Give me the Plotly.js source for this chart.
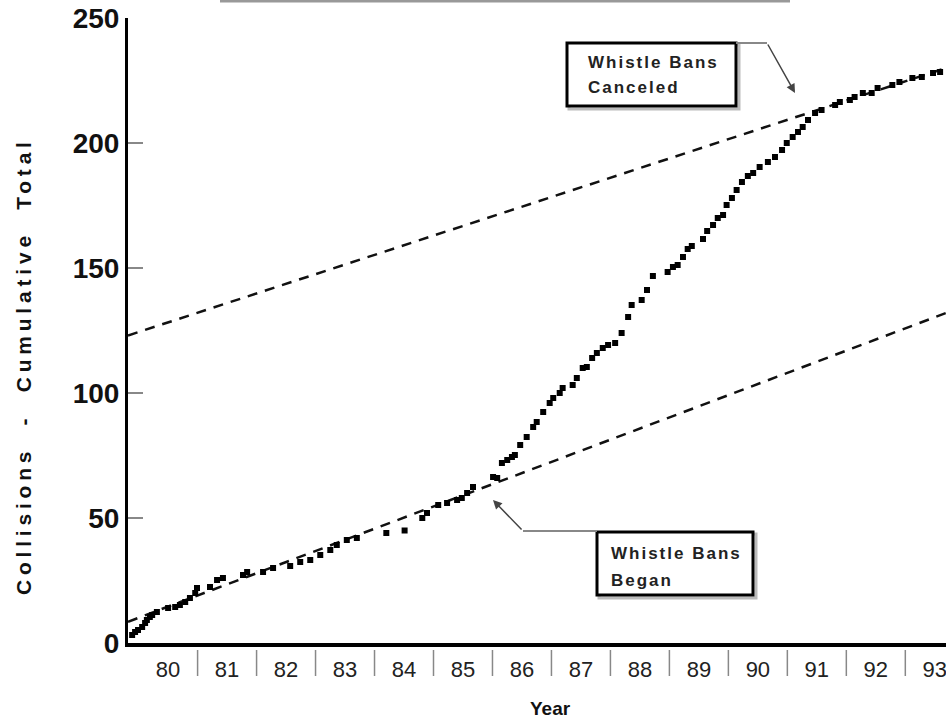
<!DOCTYPE html>
<html>
<head>
<meta charset="utf-8">
<script src="https://cdn.plot.ly/plotly-3.0.1.min.js"></script>
<style>
html,body{margin:0;padding:0;background:#fff;}
#chart{width:946px;height:721px;}
</style>
</head>
<body>
<div id="chart"></div>
<script>
// Cumulative collisions (decimal year, cumulative total)
const years = [1979.89,1979.94,1979.99,1980.06,1980.11,1980.14,1980.19,1980.23,1980.31,1980.50,1980.62,1980.70,1980.79,1980.87,1980.96,1980.99,
1981.21,1981.33,1981.43,1981.77,1981.84,1982.11,1982.28,1982.57,1982.74,1982.91,1983.08,1983.25,1983.36,1983.53,1983.70,
1984.20,1984.51,1984.81,1984.89,1985.08,1985.23,1985.40,1985.48,1985.57,1985.67,1986.01,1986.08,1986.16,1986.25,1986.33,1986.38,
1986.47,1986.58,1986.69,1986.75,1986.86,1986.97,1987.03,1987.14,1987.19,1987.36,1987.43,1987.53,1987.60,1987.69,1987.77,1987.87,
1987.96,1988.08,1988.19,1988.30,1988.36,1988.53,1988.62,1988.72,1988.97,1989.06,1989.14,1989.23,1989.31,1989.38,1989.57,1989.64,
1989.74,1989.82,1989.91,1989.97,1990.06,1990.14,1990.23,1990.33,1990.42,1990.53,1990.67,1990.79,1990.91,1990.99,1991.09,1991.18,
1991.26,1991.35,1991.47,1991.58,1991.81,1991.89,1992.06,1992.14,1992.28,1992.43,1992.53,1992.78,1992.90,1993.12,1993.28,1993.47,1993.59];
const collisions = [3.2,4.4,5.2,6.4,8,9.2,10.4,11.2,12.4,14,14.4,15.2,16.4,18,20,22,
22.4,25.2,26,27.2,28.4,28.4,30,30.8,32.4,33.2,35.2,37.2,39.2,41.2,42,
44,45,50,52,55.2,56,57.2,58,60,62.4,66.4,66,72,73.2,74.4,75.2,
79.2,82.4,86.4,88.4,92.4,96,98,100,102,103.2,106,110,110.4,114,116,118,
119.2,120,124,130.4,135.2,137.2,141.2,146.8,148.4,150.4,151.2,154.4,157.6,158.8,161.6,164.8,
167.2,170,171.2,175.2,178,181.2,184.4,186.8,188,190.4,192.4,194.4,197.2,200,202.4,204.4,
206.4,209.2,212,213.2,215.2,216.4,217.2,218.4,220,220,222,223.2,224.4,226,226.4,228,228.4];

// Trend lines (endpoints)
const trendX = [1979.82, 1993.69];
const trendBefore = [8.5, 132];   // pre-ban trend
const trendAfter = [123, 230];    // post-cancellation trend

const yearLabels = ["80","81","82","83","84","85","86","87","88","89","90","91","92","93"];
const yearStarts = [1980,1981,1982,1983,1984,1985,1986,1987,1988,1989,1990,1991,1992,1993];
const yTicks = [0,50,100,150,200,250];

const FONT = "Liberation Sans, Arial, sans-serif";
const W = 946, H = 721, ML = 128, MR = 0, MT = 18, MB = 78;
const PW = W - ML - MR, PH = H - MT - MB;
const px = x => (x - ML) / PW;       // pixel -> paper x
const py = y => (H - MB - y) / PH;   // pixel -> paper y

const traces = [
  {x: trendX, y: trendBefore, mode: 'lines', line: {color: '#111', width: 2.5, dash: '10px,8px'}, hoverinfo: 'skip'},
  {x: trendX, y: trendAfter, mode: 'lines', line: {color: '#111', width: 2.5, dash: '10px,8px'}, hoverinfo: 'skip'},
  {x: years, y: collisions, mode: 'markers', marker: {symbol: 'square', size: 6, color: '#000'}}
];

const shapes = [];
// separators between year labels
yearStarts.slice(1).forEach(v => {
  shapes.push({type: 'line', xref: 'x', yref: 'paper', x0: v, x1: v, y0: py(650), y1: py(676),
    line: {color: '#888', width: 1.5}});
});
// top title underline remnant
shapes.push({type: 'line', xref: 'paper', yref: 'paper', x0: px(220), x1: px(790), y0: py(1), y1: py(1),
  line: {color: '#999', width: 3}});
// Box 1 (Canceled) shadow + box
shapes.push({type: 'rect', xref: 'paper', yref: 'paper', x0: px(569), x1: px(739), y0: py(45), y1: py(109),
  line: {color: '#bbb', width: 3}, layer: 'above'});
shapes.push({type: 'rect', xref: 'paper', yref: 'paper', x0: px(567), x1: px(736), y0: py(43), y1: py(106),
  fillcolor: '#fff', line: {color: '#000', width: 3}, layer: 'above'});
// Box 2 (Began)
shapes.push({type: 'rect', xref: 'paper', yref: 'paper', x0: px(599), x1: px(756), y0: py(534), y1: py(598),
  line: {color: '#bbb', width: 3}, layer: 'above'});
shapes.push({type: 'rect', xref: 'paper', yref: 'paper', x0: px(597), x1: px(753), y0: py(532), y1: py(595),
  fillcolor: '#fff', line: {color: '#000', width: 3}, layer: 'above'});
// leader horizontals
shapes.push({type: 'line', xref: 'paper', yref: 'paper', x0: px(736), x1: px(767), y0: py(43), y1: py(43),
  line: {color: '#888', width: 2}, layer: 'above'});
shapes.push({type: 'line', xref: 'paper', yref: 'paper', x0: px(523), x1: px(597), y0: py(531), y1: py(531),
  line: {color: '#888', width: 2}, layer: 'above'});

const sp = s => '<span style="letter-spacing:2px">' + s + '</span>';
const boxFont = {family: FONT, size: 17, color: '#222', weight: 'bold'};

const annotations = [
  {xref: 'paper', yref: 'paper', x: px(586), y: py(62), xanchor: 'left', yanchor: 'middle', text: sp('Whistle Bans'), showarrow: false, font: boxFont},
  {xref: 'paper', yref: 'paper', x: px(586), y: py(88), xanchor: 'left', yanchor: 'middle', text: sp('Canceled'), showarrow: false, font: boxFont},
  {xref: 'paper', yref: 'paper', x: px(609), y: py(553), xanchor: 'left', yanchor: 'middle', text: sp('Whistle Bans'), showarrow: false, font: boxFont},
  {xref: 'paper', yref: 'paper', x: px(609), y: py(580), xanchor: 'left', yanchor: 'middle', text: sp('Began'), showarrow: false, font: boxFont},
  // arrows
  {xref: 'paper', yref: 'paper', x: px(795), y: py(93), ax: -28, ay: -50, text: '', showarrow: true,
    arrowhead: 2, arrowsize: 1.2, arrowwidth: 1.5, arrowcolor: '#444'},
  {xref: 'paper', yref: 'paper', x: px(493), y: py(500), ax: 30, ay: 31, text: '', showarrow: true,
    arrowhead: 2, arrowsize: 1.2, arrowwidth: 1.5, arrowcolor: '#444'},
  // axis titles
  {xref: 'paper', yref: 'paper', x: px(550), y: py(708), xanchor: 'center', yanchor: 'middle', text: 'Year', showarrow: false,
    font: {family: FONT, size: 19, color: '#111', weight: 'bold'}},
  {xref: 'paper', yref: 'paper', x: px(23), y: py(366), xanchor: 'center', yanchor: 'middle', textangle: -90,
    text: '<span style="letter-spacing:4.8px">Collisions  -  Cumulative  Total</span>', showarrow: false,
    font: {family: FONT, size: 21, color: '#111', weight: 'bold'}}
];

const layout = {
  width: W, height: H,
  margin: {l: ML, r: MR, t: MT, b: MB, pad: 0},
  paper_bgcolor: '#fff', plot_bgcolor: '#fff',
  showlegend: false,
  xaxis: {
    range: [1979.82, 1993.69],
    tickvals: yearStarts.map(v => v + 0.5), ticktext: yearLabels,
    ticks: '', showgrid: false, zeroline: false,
    showline: true, linecolor: '#000', linewidth: 4,
    tickfont: {family: FONT, size: 22, color: '#222'},
    ticklabelstandoff: 4,
    ticklabeloverflow: 'allow'
  },
  yaxis: {
    range: [0, 250],
    tickvals: yTicks, ticktext: yTicks.map(String),
    ticks: 'inside', ticklen: 15, tickwidth: 2, tickcolor: '#888',
    showgrid: false, zeroline: false,
    showline: true, linecolor: '#000', linewidth: 3,
    tickfont: {family: FONT, size: 28, color: '#111', weight: 'bold'}
  },
  shapes: shapes,
  annotations: annotations
};

Plotly.newPlot('chart', traces, layout, {displayModeBar: false, staticPlot: true});
</script>
</body>
</html>
